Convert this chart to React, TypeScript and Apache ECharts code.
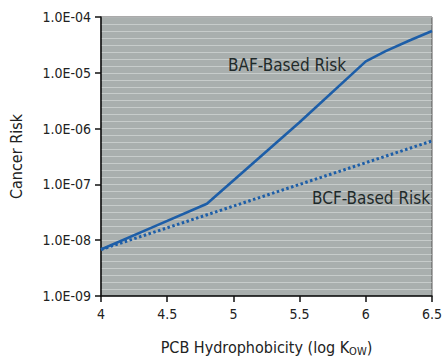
import React, { useEffect, useRef } from "react";
import * as echarts from "echarts";

const xTicks = [4, 4.5, 5, 5.5, 6, 6.5];
const bafX = [4.0, 4.4, 4.8, 5.5, 6.0, 6.15, 6.33, 6.5];
const bafY = [6.8e-9, 1.75e-8, 4.5e-8, 1.3e-6, 1.6e-5, 2.45e-5, 3.8e-5, 5.6e-5];
const bcfX = [4.0, 5.5, 6.5];
const bcfY = [6.8e-9, 1.0e-7, 6.0e-7];

const FONT = "'Liberation Sans Narrow', 'DejaVu Sans Condensed', 'Roboto Condensed', 'Liberation Sans', sans-serif";

function fmtSci(v: number): string {
  const s = v.toExponential(1);
  const [m, e] = s.split("e");
  const ex = parseInt(e, 10);
  const sign = ex < 0 ? "-" : "+";
  const abs = Math.abs(ex);
  return `${m}E${sign}${abs < 10 ? "0" + abs : abs}`;
}

export default function App() {
  const ref = useRef<HTMLDivElement>(null);
  useEffect(() => {
    if (!ref.current) return;
    const chart = echarts.init(ref.current, undefined, { renderer: "svg" });
    chart.setOption({
      animation: false,
      backgroundColor: "#ffffff",
      grid: {
        left: 97,
        top: 17,
        right: 11,
        bottom: 61,
        show: true,
        backgroundColor: "#a9afae",
        borderColor: "#555555",
        borderWidth: 1,
      },
      xAxis: {
        type: "value",
        min: 4,
        max: 6.5,
        interval: 0.5,
        name: "PCB Hydrophobicity (log K{sub|OW})",
        nameLocation: "middle",
        nameGap: 41,
        nameTextStyle: {
          fontFamily: FONT,
          fontSize: 16,
          color: "#222",
          rich: {
            sub: { fontFamily: FONT, fontSize: 11, color: "#222", padding: [9, 0, 0, 0] },
          },
        },
        axisLine: { show: true, onZero: false, lineStyle: { color: "#111", width: 1.5 } },
        axisTick: { show: true, length: 6, lineStyle: { color: "#111", width: 1.5 } },
        axisLabel: {
          fontFamily: FONT,
          fontSize: 14,
          color: "#222",
          margin: 11,
          customValues: xTicks,
        },
        splitLine: { show: false },
      },
      yAxis: [
        {
          type: "log",
          logBase: 10,
          min: 1e-9,
          max: 1e-4,
          name: "Cancer Risk",
          nameLocation: "middle",
          nameGap: 77,
          nameTextStyle: { fontFamily: FONT, fontSize: 16, color: "#222" },
          axisLine: { show: true, lineStyle: { color: "#111", width: 1.5 } },
          axisTick: { show: true, length: 6, lineStyle: { color: "#111", width: 1.5 } },
          axisLabel: {
            fontFamily: FONT,
            fontSize: 14,
            color: "#222",
            margin: 10,
            formatter: (v: number) => fmtSci(v),
          },
          splitLine: { show: false },
          minorTick: { show: false },
        },
        {
          type: "value",
          min: 0,
          max: 100,
          interval: 2.5,
          position: "right",
          axisLine: { show: false },
          axisTick: { show: false },
          axisLabel: { show: false },
          splitLine: { show: true, lineStyle: { color: "rgba(235,240,240,0.45)", width: 1 } },
        },
      ],
      graphic: [
        {
          type: "text",
          left: 228,
          top: 56,
          style: { text: "BAF-Based Risk", fontFamily: FONT, fontSize: 17, fill: "#1f2a2a" },
          z: 10,
        },
        {
          type: "text",
          left: 312,
          top: 189,
          style: { text: "BCF-Based Risk", fontFamily: FONT, fontSize: 17, fill: "#1f2a2a" },
          z: 10,
        },
      ],
      series: [
        {
          name: "BAF-Based Risk",
          type: "line",
          yAxisIndex: 0,
          data: bafX.map((x, i) => [x, bafY[i]]),
          showSymbol: false,
          symbol: "none",
          lineStyle: { color: "#1d5ea8", width: 2.6 },
          z: 5,
        },
        {
          name: "BCF-Based Risk",
          type: "line",
          yAxisIndex: 0,
          data: bcfX.map((x, i) => [x, bcfY[i]]),
          showSymbol: false,
          symbol: "none",
          lineStyle: { color: "#1d5ea8", width: 3, type: [2.5, 2.5] },
          z: 4,
        },
      ],
    });
    return () => chart.dispose();
  }, []);
  return <div ref={ref} style={{ width: 445, height: 362, position: "absolute", left: 0, top: 0 }} />;
}
